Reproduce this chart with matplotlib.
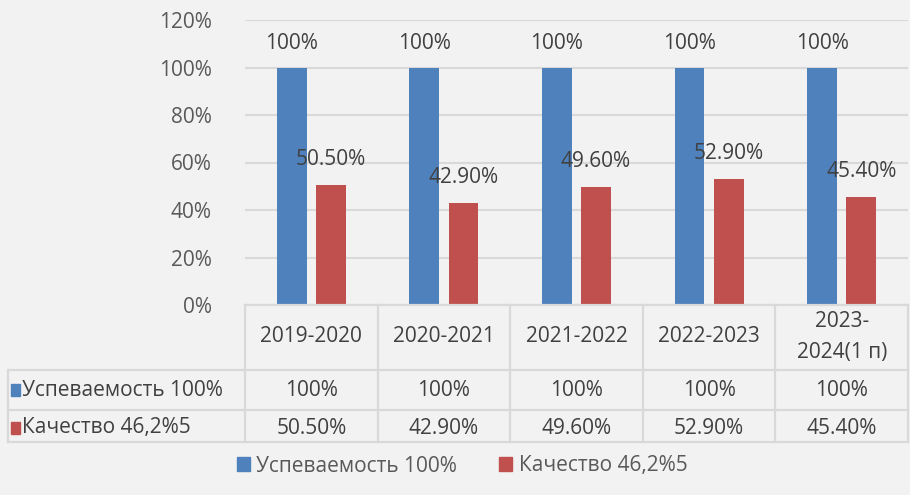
import matplotlib.pyplot as plt
import numpy as np

years = ['2019-2020', '2020-2021', '2021-2022', '2022-2023', '2023-\n2024(1 п)']
uspev = [1.00, 1.00, 1.00, 1.00, 1.00]
kach = [0.505, 0.429, 0.496, 0.529, 0.454]
uspev_labels = ['100%', '100%', '100%', '100%', '100%']
kach_labels = ['50.50%', '42.90%', '49.60%', '52.90%', '45.40%']
series_names = ['Успеваемость 100%', 'Качество 46,2%5']

blue = '#4f81bd'
red = '#c0504d'
bg = '#f2f2f2'
grid = '#d9d9d9'
txt = '#404040'
fs = 15

plt.rcParams['font.family'] = ['Open Sans', 'DejaVu Sans']

W, H = 910, 495
fig = plt.figure(figsize=(9.1, 4.95), dpi=100, facecolor=bg)
ax = fig.add_axes([245 / W, 1 - 305 / H, (908 - 245) / W, (305 - 20) / H])
ax.set_facecolor(bg)

x = np.arange(len(years))
bw = 0.225
gap = 0.035
ax.bar(x - bw / 2 - gap, uspev, bw, color=blue, zorder=3)
ax.bar(x + bw / 2 + gap, kach, bw, color=red, zorder=3)

for i in x:
    ax.annotate(uspev_labels[i], (x[i] - bw / 2 - gap, uspev[i]), xytext=(0, 24),
                textcoords='offset pixels', ha='center', va='center', fontsize=fs, color=txt)
    ax.annotate(kach_labels[i], (x[i] + bw / 2 + gap, kach[i]), xytext=(0, 26),
                textcoords='offset pixels', ha='center', va='center', fontsize=fs, color=txt)

ax.set_xlim(-0.5, len(years) - 0.5)
ax.set_ylim(0, 1.2)
ax.set_yticks(np.arange(0, 1.21, 0.2))
ax.set_yticklabels(['0%', '20%', '40%', '60%', '80%', '100%', '120%'])
ax.tick_params(axis='y', length=0, labelsize=fs, labelcolor='#595959', pad=24)
ax.set_xticks([])
ax.grid(axis='y', color=grid, linewidth=1.5, zorder=0)
for s in ax.spines.values():
    s.set_visible(False)


# data table under the plot, drawn in figure pixels
def fx(px):
    return px / W


def fy(py):
    return 1 - py / H


cols = [245 + i * (908 - 245) / len(years) for i in range(len(years) + 1)]
rows = [305, 370, 410, 442]
lc = '#d9d9d9'
lw = 1.6
fig.add_artist(plt.Line2D([fx(245), fx(908)], [fy(305), fy(305)], color=lc, lw=lw))
for r in rows[1:]:
    fig.add_artist(plt.Line2D([fx(8), fx(908)], [fy(r), fy(r)], color=lc, lw=lw))
for c in cols:
    fig.add_artist(plt.Line2D([fx(c), fx(c)], [fy(305), fy(442)], color=lc, lw=lw))
fig.add_artist(plt.Line2D([fx(8), fx(8)], [fy(370), fy(442)], color=lc, lw=lw))

for i, y in enumerate(years):
    cx = (cols[i] + cols[i + 1]) / 2
    fig.text(fx(cx), fy(337), y, ha='center', va='center', fontsize=fs, color=txt,
             linespacing=1.6)
    fig.text(fx(cx), fy(390), uspev_labels[i], ha='center', va='center', fontsize=fs, color=txt)
    fig.text(fx(cx), fy(428), kach_labels[i], ha='center', va='center', fontsize=fs, color=txt)

for name, col, ry in [(series_names[0], blue, 390), (series_names[1], red, 428)]:
    fig.add_artist(plt.Rectangle((fx(11), fy(ry + 6)), fx(9), 12 / H, color=col))
    fig.text(fx(22), fy(ry), name, ha='left', va='center', fontsize=fs, color=txt)

# legend
handles = [plt.Rectangle((0, 0), 1, 1, color=blue), plt.Rectangle((0, 0), 1, 1, color=red)]
fig.legend(handles, series_names, loc='center', bbox_to_anchor=(fx(462), fy(466)), ncol=2,
           frameon=False, fontsize=fs, labelcolor='#595959', handlelength=0.65,
           handleheight=0.65, handletextpad=0.3, columnspacing=2.0)

fig.savefig('out.png', dpi=100, facecolor=bg)
